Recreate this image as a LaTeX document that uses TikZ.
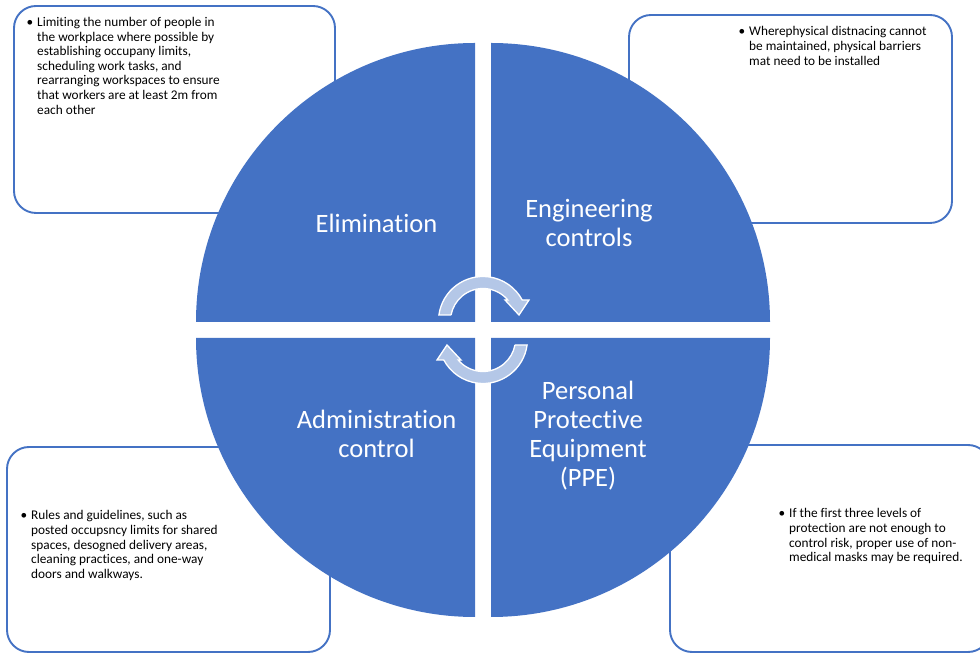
\documentclass[tikz,border=0pt]{standalone}
\usepackage{fontspec}
\setmainfont{Carlito}[Ligatures={NoCommon}]
\definecolor{qblue}{RGB}{68,114,196}
\definecolor{arrfill}{RGB}{180,199,231}
\tikzset{
  quad/.style={fill=qblue, draw=none},
  notebox/.style={draw=qblue, line width=1.9pt, rounded corners=22pt, fill=white, inner sep=0pt},
  boxtext/.style={anchor=base west, inner sep=0pt, font=\fontsize{13.3}{14.6}\selectfont, text=black},
  qlabel/.style={anchor=base, inner sep=0pt, text=white, font=\fontsize{26.5}{29}\selectfont},
  cyc/.style={fill=arrfill, draw=white, line width=1.3pt, line join=miter}
}
\newcommand{\bul}{\llap{\textbullet\hspace{4pt}}}
\begin{document}
\begin{tikzpicture}[x=1pt,y=1pt]
\useasboundingbox (0,0) rectangle (980,653);
\clip (0,0) rectangle (980,653);
% note boxes
\node[notebox, minimum width=321pt, minimum height=207pt] (b1) at (174.5,543.5) {};
\node[notebox, minimum width=323pt, minimum height=208pt] (b2) at (790.5,534) {};
\node[notebox, minimum width=323pt, minimum height=205pt] (b3) at (168.5,103.5) {};
\node[notebox, minimum width=320pt, minimum height=207pt] (b4) at (830,104.5) {};
% quadrants
\fill[quad] (475,331) -- ++(-279,0) arc[start angle=180, end angle=90, radius=279] -- cycle;
\fill[quad] (491,331) -- ++(0,279) arc[start angle=90, end angle=0, radius=279] -- cycle;
\fill[quad] (475,315) -- ++(-279,0) arc[start angle=180, end angle=270, radius=279] -- cycle;
\fill[quad] (491,315) -- ++(279,0) arc[start angle=0, end angle=-90, radius=279] -- cycle;
% circular arrows
\filldraw[cyc] (451.1,338) -- (438.9,338) arc[start angle=172.25, end angle=28.16, radius=44.5]
  -- (529,353) -- (519,338) -- (505,353) -- (507.8,353)
  arc[start angle=40.25, end angle=169.36, radius=32.5] -- cycle;
\filldraw[cyc, rotate around={180:(483,323)}] (451.1,338) -- (438.9,338) arc[start angle=172.25, end angle=28.16, radius=44.5]
  -- (529,353) -- (519,338) -- (505,353) -- (507.8,353)
  arc[start angle=40.25, end angle=169.36, radius=32.5] -- cycle;
% quadrant labels
\node[qlabel] (q1) at (376.5,420.3) {\begin{tabular}[t]{@{}c@{}}Elimination\end{tabular}};
\node[qlabel] (q2) at (589,435.3) {\begin{tabular}[t]{@{}c@{}}Engineering\\controls\end{tabular}};
\node[qlabel] (q3) at (376.5,224.7) {\begin{tabular}[t]{@{}c@{}}Administration\\control\end{tabular}};
\node[qlabel] (q4) at (588,253.7) {\begin{tabular}[t]{@{}c@{}}Personal\\Protective\\Equipment\\(PPE)\end{tabular}};
% box texts
\node[boxtext] (t1) at (37,626.5) {\begin{tabular}[t]{@{}l@{}}\bul Limiting the number of people in\\the workplace where possible by\\establishing occupany limits,\\scheduling work tasks, and\\rearranging workspaces to ensure\\that workers are at least 2m from\\each other\end{tabular}};
\node[boxtext] (t2) at (749,617) {\begin{tabular}[t]{@{}l@{}}\bul Wherephysical distnacing cannot\\be maintained, physical barriers\\mat need to be installed\end{tabular}};
\node[boxtext] (t3) at (31,133) {\begin{tabular}[t]{@{}l@{}}\bul Rules and guidelines, such as\\posted occupsncy limits for shared\\spaces, desogned delivery areas,\\cleaning practices, and one-way\\doors and walkways.\end{tabular}};
\node[boxtext] (t4) at (789,135) {\begin{tabular}[t]{@{}l@{}}\bul If the first three levels of\\protection are not enough to\\control risk, proper use of non-\\medical masks may be required.\end{tabular}};
\end{tikzpicture}
\end{document}
